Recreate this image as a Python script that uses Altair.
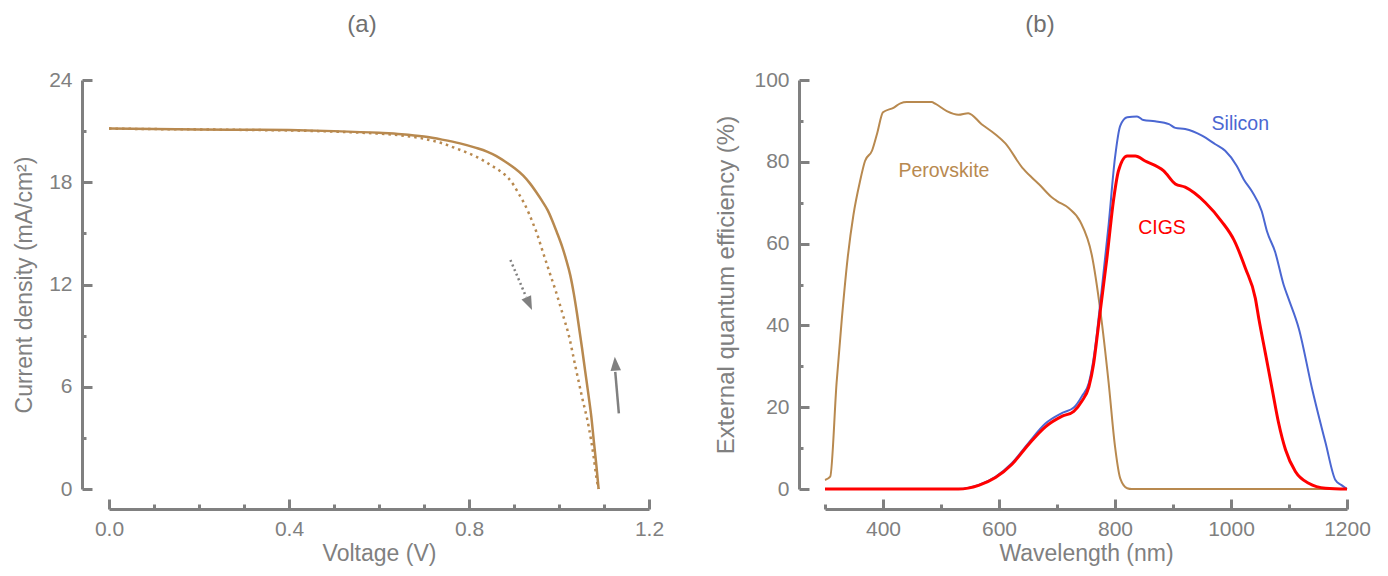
import altair as alt
import pandas as pd

FONT = "Liberation Sans"
GRAY = "#808080"
BROWN = "#B8894F"
BLUE = "#4B67D2"
RED = "#FF0000"

# ---------------- (a) J-V curves ----------------
rev_voltage = [0, 0.1, 0.2, 0.3, 0.4, 0.5, 0.6, 0.65, 0.7, 0.74, 0.78, 0.814, 0.84, 0.86,
               0.88, 0.9, 0.92, 0.935, 0.95, 0.962, 0.975, 0.984, 0.995, 1.007, 1.016,
               1.025, 1.033, 1.04, 1.051, 1.058, 1.066, 1.072, 1.077, 1.083, 1.088]
rev_current = [21.15, 21.13, 21.1, 21.08, 21.06, 21.0, 20.9, 20.82, 20.68, 20.5, 20.28, 20.03,
               19.8, 19.55, 19.22, 18.85, 18.4, 17.95, 17.4, 16.92, 16.35, 15.82, 15.08, 14.22,
               13.45, 12.55, 11.45, 10.3, 8.3, 6.95, 5.42, 4.2, 2.9, 1.4, 0.0]

fwd_voltage = [0, 0.1, 0.2, 0.3, 0.4, 0.5, 0.6, 0.65, 0.7, 0.74, 0.77, 0.799, 0.82, 0.836,
               0.85, 0.866, 0.878, 0.888, 0.9, 0.91, 0.922, 0.933, 0.942, 0.951, 0.96, 0.97,
               0.981, 0.992, 1.001, 1.01, 1.021, 1.036, 1.051, 1.066, 1.077, 1.084, 1.088]
fwd_current = [21.15, 21.12, 21.1, 21.07, 21.04, 20.97, 20.85, 20.75, 20.55, 20.29, 20.0, 19.7,
               19.45, 19.21, 18.98, 18.72, 18.48, 18.23, 17.8, 17.35, 16.8, 16.18, 15.6, 15.0,
               14.25, 13.44, 12.55, 11.68, 10.9, 10.1, 9.1, 7.25, 5.42, 3.66, 1.9, 0.53, 0.0]

# arrows (shaft start, shaft end / tip)
arrow_fwd_V = [0.892, 0.927]
arrow_fwd_J = [13.44, 11.27]
arrow_fwd_tip = (0.94, 10.5)
arrow_rev_V = [1.133, 1.125]
arrow_rev_J = [4.44, 6.87]
arrow_rev_tip = (1.124, 7.76)

jv_x_major = [0.0, 0.4, 0.8, 1.2]
jv_x_minor = [0.1, 0.2, 0.3, 0.5, 0.6, 0.7, 0.9, 1.0, 1.1]
jv_y_major = [0, 6, 12, 18, 24]
jv_y_minor = [3, 9, 15, 21]

# ---------------- (b) EQE ----------------
pero_wl = [300, 309, 320, 329, 339, 349, 360, 369, 381, 390, 400, 418, 430, 441, 484, 490, 510,
           530, 547, 570, 593, 611, 640, 657, 669, 692, 700, 720, 740, 760, 775, 789, 800, 809,
           821, 829, 900, 1000, 1100, 1200]
pero_eqe = [2.2, 3.0, 26, 41.6, 56.4, 67, 75, 80.2, 82.7, 87, 92.1, 93.2, 94.3, 94.6, 94.6, 94.2,
            92.4, 91.5, 91.9, 89.2, 86.8, 84.5, 78.6, 76.1, 74.5, 71.2, 70.4, 68.7, 65.4, 57.2,
            43.3, 26, 10.4, 2.6, 0.2, 0, 0, 0, 0, 0]

si_wl = [300, 530, 565, 594, 622, 651, 680, 709, 729, 743, 755, 763, 769, 775, 789, 800, 809,
         821, 838, 849, 869, 893, 904, 921, 950, 973, 990, 1010, 1022, 1036, 1053, 1062, 1076,
         1091, 1099, 1117, 1140, 1163, 1180, 1190, 1200]
si_eqe = [0, 0, 1, 3, 6.3, 11.3, 16.0, 18.6, 19.9, 22.7, 26, 31.8, 38.3, 46, 64.6, 81, 88.8,
          90.9, 91.1, 90.2, 89.9, 89.2, 88.3, 88, 86.4, 84.3, 82.7, 79, 75.7, 72.8, 67.9, 63,
          58, 49.8, 46.6, 39.2, 24.4, 11.3, 2.2, 1, 0]

cigs_wl = [300, 530, 565, 594, 622, 651, 680, 709, 729, 743, 755, 763, 769, 775, 786, 798, 806,
           821, 835, 852, 884, 904, 921, 956, 984, 1005, 1025, 1042, 1048, 1059, 1071, 1082,
           1094, 1111, 1134, 1163, 1200]
cigs_eqe = [0, 0, 0.9, 2.8, 6.0, 10.9, 15.2, 17.8, 19.0, 21.5, 25, 30.5, 37, 44, 56.4, 71.2,
            77.8, 81.4, 81.4, 80.2, 77.8, 74.6, 73.8, 70, 65.4, 60.9, 53.9, 46.6, 41.6, 33.4,
            24.4, 16.2, 9.6, 4.3, 1.4, 0.2, 0]

label_names = ["Perovskite", "Silicon", "CIGS"]
label_wl = [505, 1016, 881]
label_eqe = [77.8, 89.3, 63.8]
label_colors = [BROWN, BLUE, RED]

eqe_x_values = [300, 400, 500, 600, 700, 800, 900, 1000, 1100, 1200]
eqe_x_major = [400, 600, 800, 1000, 1200]
eqe_x_minor = [300, 500, 700, 900, 1100]
eqe_y_major = [0, 20, 40, 60, 80, 100]
eqe_y_minor = [10, 30, 50, 70, 90]


def main_axis(orient, values, title, offset, label_pad, title_pad, label_expr=None, fmt=None,
              title_size=23):
    args = dict(orient=orient, values=values, title=title, offset=offset, grid=False,
                domain=True, domainColor=GRAY, domainWidth=3, ticks=False, tickSize=0,
                labels=True, labelColor=GRAY, labelFont=FONT, labelFontSize=21,
                labelPadding=label_pad, labelFlush=False, labelOverlap=False,
                titleColor=GRAY, titleFont=FONT, titleFontSize=title_size, titleFontWeight="normal",
                titlePadding=title_pad)
    if label_expr:
        args["labelExpr"] = label_expr
    if fmt:
        args["format"] = fmt
    return alt.Axis(**args)


def tick_axis(orient, values, size, offset):
    return alt.Axis(orient=orient, values=values, title=None, offset=offset, grid=False,
                    domain=False, labels=False, ticks=True, tickSize=size, tickWidth=3,
                    tickColor=GRAY)


# ---- panel (a)
rev_df = pd.DataFrame({"V": rev_voltage, "J": rev_current})
fwd_df = pd.DataFrame({"V": fwd_voltage, "J": fwd_current})
jx = alt.Scale(domain=[0, 1.2], nice=False, zero=False)
jy = alt.Scale(domain=[0, 24], nice=False, zero=False)

a_main = alt.Chart(rev_df).mark_line(color=BROWN, strokeWidth=2.5, interpolate="monotone").encode(
    x=alt.X("V:Q", scale=jx, axis=main_axis("bottom", jv_x_major, "Voltage (V)", 20, 9, 3, fmt=".1f")),
    y=alt.Y("J:Q", scale=jy, axis=main_axis("left", jv_y_major, "Current density (mA/cm²)", 27, 10, 12)),
    order="V:Q",
)
a_dot = alt.Chart(fwd_df).mark_line(color=BROWN, strokeWidth=2.5, strokeDash=[2.5, 4],
                                    interpolate="monotone").encode(
    x=alt.X("V:Q", scale=jx, axis=None), y=alt.Y("J:Q", scale=jy, axis=None), order="V:Q"
)
a_major = alt.Chart(rev_df).mark_line(opacity=0).encode(
    x=alt.X("V:Q", scale=jx, axis=tick_axis("bottom", jv_x_major, 10, 10)),
    y=alt.Y("J:Q", scale=jy, axis=tick_axis("left", jv_y_major, 10, 17)),
)
a_minor = alt.Chart(rev_df).mark_line(opacity=0).encode(
    x=alt.X("V:Q", scale=jx, axis=tick_axis("bottom", jv_x_minor, 5, 15)),
    y=alt.Y("J:Q", scale=jy, axis=tick_axis("left", jv_y_minor, 4, 23)),
)

shaft_df = pd.DataFrame({
    "V": [arrow_fwd_V[0], arrow_rev_V[0]], "J": [arrow_fwd_J[0], arrow_rev_J[0]],
    "V2": [arrow_fwd_V[1], arrow_rev_V[1]], "J2": [arrow_fwd_J[1], arrow_rev_J[1]],
    "kind": ["fwd", "rev"],
})
a_shaft_fwd = alt.Chart(shaft_df[shaft_df.kind == "fwd"]).mark_rule(
    color=GRAY, strokeWidth=2.5, strokeDash=[2, 3]).encode(
    x=alt.X("V:Q", scale=jx, axis=None), y=alt.Y("J:Q", scale=jy, axis=None), x2="V2:Q", y2="J2:Q")
a_shaft_rev = alt.Chart(shaft_df[shaft_df.kind == "rev"]).mark_rule(
    color=GRAY, strokeWidth=2.5).encode(
    x=alt.X("V:Q", scale=jx, axis=None), y=alt.Y("J:Q", scale=jy, axis=None), x2="V2:Q", y2="J2:Q")

HEAD = "M0,0L0.75,2L-0.75,2Z"
head_fwd = alt.Chart(pd.DataFrame({"V": [arrow_fwd_tip[0]], "J": [arrow_fwd_tip[1]]})).mark_point(
    shape=HEAD, filled=True, color=GRAY, opacity=1, size=196, angle=156).encode(
    x=alt.X("V:Q", scale=jx, axis=None), y=alt.Y("J:Q", scale=jy, axis=None))
head_rev = alt.Chart(pd.DataFrame({"V": [arrow_rev_tip[0]], "J": [arrow_rev_tip[1]]})).mark_point(
    shape=HEAD, filled=True, color=GRAY, opacity=1, size=196, angle=356).encode(
    x=alt.X("V:Q", scale=jx, axis=None), y=alt.Y("J:Q", scale=jy, axis=None))

panel_a = alt.layer(a_major, a_minor, a_dot, a_main, a_shaft_fwd, a_shaft_rev, head_fwd, head_rev).resolve_axis(
    x="independent", y="independent"
).properties(
    width=540, height=409,
    title=alt.TitleParams("(a)", font=FONT, fontSize=24, fontWeight="normal", color="#707070",
                          anchor="middle", frame="group", offset=32, dx=-17),
)

# ---- panel (b)
pero_df = pd.DataFrame({"wl": pero_wl, "eqe": pero_eqe})
si_df = pd.DataFrame({"wl": si_wl, "eqe": si_eqe})
cigs_df = pd.DataFrame({"wl": cigs_wl, "eqe": cigs_eqe})
lab_df = pd.DataFrame({"wl": label_wl, "eqe": label_eqe, "name": label_names, "c": label_colors})
bx = alt.Scale(domain=[300, 1200], nice=False, zero=False)
by = alt.Scale(domain=[0, 100], nice=False, zero=False)

b_pero = alt.Chart(pero_df).mark_line(color=BROWN, strokeWidth=2, interpolate="monotone").encode(
    x=alt.X("wl:Q", scale=bx, axis=main_axis("bottom", eqe_x_values, "Wavelength (nm)", 20, 9, 3,
                                              "datum.value % 200 === 0 ? datum.label : ''", fmt="d")),
    y=alt.Y("eqe:Q", scale=by, axis=main_axis("left", eqe_y_major, "External quantum efficiency (%)", 26, 10, 15,
                                              title_size=24)),
    order="wl:Q",
)
b_si = alt.Chart(si_df).mark_line(color=BLUE, strokeWidth=2, interpolate="monotone").encode(
    x=alt.X("wl:Q", scale=bx, axis=None), y=alt.Y("eqe:Q", scale=by, axis=None), order="wl:Q")
b_cigs = alt.Chart(cigs_df).mark_line(color=RED, strokeWidth=3, interpolate="monotone").encode(
    x=alt.X("wl:Q", scale=bx, axis=None), y=alt.Y("eqe:Q", scale=by, axis=None), order="wl:Q")
b_major = alt.Chart(pero_df).mark_line(opacity=0).encode(
    x=alt.X("wl:Q", scale=bx, axis=tick_axis("bottom", eqe_x_major, 10, 10)),
    y=alt.Y("eqe:Q", scale=by, axis=tick_axis("left", eqe_y_major, 10, 16)),
)
b_minor = alt.Chart(pero_df).mark_line(opacity=0).encode(
    x=alt.X("wl:Q", scale=bx, axis=tick_axis("bottom", eqe_x_minor, 5, 15)),
    y=alt.Y("eqe:Q", scale=by, axis=tick_axis("left", eqe_y_minor, 4, 22)),
)
b_labels = alt.Chart(lab_df).mark_text(font=FONT, fontSize=19.5, align="center", baseline="middle").encode(
    x=alt.X("wl:Q", scale=bx, axis=None), y=alt.Y("eqe:Q", scale=by, axis=None),
    text="name:N", color=alt.Color("c:N", scale=None, legend=None),
)

panel_b = alt.layer(b_major, b_minor, b_pero, b_si, b_cigs, b_labels).resolve_axis(
    x="independent", y="independent"
).properties(
    width=522, height=409,
    title=alt.TitleParams("(b)", font=FONT, fontSize=24, fontWeight="normal", color="#707070",
                          anchor="middle", frame="group", offset=32, dx=-46),
)

chart = alt.hconcat(panel_a, panel_b, spacing=176, bounds="flush").configure_view(
    stroke=None
).properties(padding={"left": 5, "top": 5, "right": 5, "bottom": 5}, background="white")

chart.save("out.html", embed_options={"renderer": "svg", "actions": False})
